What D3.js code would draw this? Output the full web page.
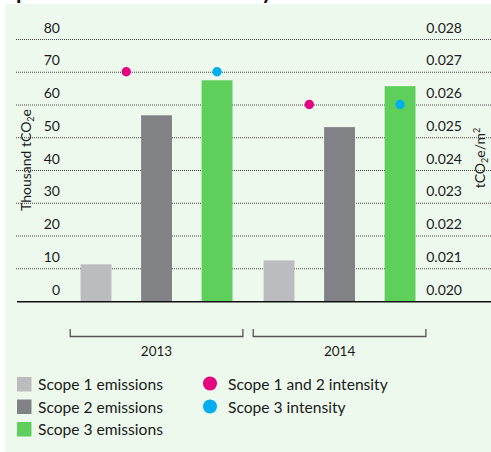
<!DOCTYPE html>
<html>
<head>
<meta charset="utf-8">
<script src="https://cdn.jsdelivr.net/npm/d3@7"></script>
<style>
  html, body { margin: 0; padding: 0; background: #ffffff; }
  svg { display: block; font-family: Lato, "Open Sans", sans-serif; }
</style>
</head>
<body>
<svg id="chart" width="491" height="452"></svg>
<script>
// Emissions (thousand tCO2e) and intensity (tCO2e/m2) by year
const years = ["2013", "2014"];
const scopes = ["Scope 1 emissions", "Scope 2 emissions", "Scope 3 emissions"];
const scope1 = [11.2, 12.4];
const scope2 = [56.7, 53.1];
const scope3 = [67.4, 65.6];
const intensityLabels = ["Scope 1 and 2 intensity", "Scope 3 intensity"];
const intensity12 = [0.027, 0.026];
const intensity3 = [0.027, 0.026];
const leftTicks = [0, 10, 20, 30, 40, 50, 60, 70, 80];
const rightTicks = [0.020, 0.021, 0.022, 0.023, 0.024, 0.025, 0.026, 0.027, 0.028];

const barColors = ["#bbbcbe", "#808285", "#5ecf5a"];
const dotColors = ["#e4007f", "#00aeef"];

const svg = d3.select("#chart");

// panel background
svg.append("rect").attr("x", 5).attr("y", 4).attr("width", 486).attr("height", 448)
  .attr("fill", "#eef9ee");

// heading line (runs above the panel)
svg.append("text").attr("x", 16).attr("y", -1)
  .attr("font-size", 22).attr("font-weight", 700).attr("fill", "#111")
  .text("performance and intensity");

const y = d3.scaleLinear().domain([0, 80]).range([301, 39]);
const yR = d3.scaleLinear().domain([0.020, 0.028]).range([301, 39]);

const xYear = d3.scaleBand().domain(years).range([69.7, 426.4])
  .paddingInner(0.051).paddingOuter(0);
// three bar slots plus the gaps between them
const xBar = d3.scaleBand().domain(scopes).range([0, xYear.bandwidth()])
  .paddingInner(0.49).paddingOuter(0.18);

// gridlines
svg.append("g").selectAll("line").data(leftTicks.slice(1)).join("line")
  .attr("x1", 16).attr("x2", 491)
  .attr("y1", d => y(d) + 0.5).attr("y2", d => y(d) + 0.5)
  .attr("stroke", "#444").attr("stroke-width", 1).attr("stroke-dasharray", "1,1");

// left axis labels
const leftAxis = d3.axisLeft(y).tickValues(leftTicks).tickSize(0).tickPadding(0);
const gl = svg.append("g").attr("transform", "translate(60,0)").call(leftAxis);
gl.select(".domain").remove();
gl.selectAll("text").attr("font-family", "Lato, sans-serif").attr("font-size", 14)
  .attr("fill", "#1a1a1a").attr("dy", -7).attr("y", 0)
  .attr("dominant-baseline", "auto");

// right axis labels
const rightAxis = d3.axisRight(yR).tickValues(rightTicks).tickSize(0).tickPadding(0)
  .tickFormat(d3.format(".3f"));
const gr = svg.append("g").attr("transform", "translate(462,0)").call(rightAxis);
gr.select(".domain").remove();
gr.selectAll("text").attr("font-family", "Lato, sans-serif").attr("font-size", 14)
  .attr("fill", "#1a1a1a").attr("text-anchor", "end").attr("x", 0)
  .attr("dy", -7).attr("y", 0).attr("dominant-baseline", "auto");

// axis titles
const lt = svg.append("text").attr("transform", "translate(31,160) rotate(-90)")
  .attr("text-anchor", "middle").attr("font-size", 14).attr("fill", "#1a1a1a");
lt.append("tspan").text("Thousand tCO");
lt.append("tspan").attr("font-size", 9).attr("dy", 3).text("2");
lt.append("tspan").attr("dy", -3).text("e");

const rt = svg.append("text").attr("transform", "translate(485,158) rotate(-90)")
  .attr("text-anchor", "middle").attr("font-size", 14).attr("fill", "#1a1a1a");
rt.append("tspan").text("tCO");
rt.append("tspan").attr("font-size", 9).attr("dy", 3).text("2");
rt.append("tspan").attr("dy", -3).text("e/m");
rt.append("tspan").attr("font-size", 9).attr("dy", -5).text("2");

// bars
const rows = years.map((yr, i) => ({
  year: yr,
  values: [scope1[i], scope2[i], scope3[i]],
  dots: [intensity12[i], intensity3[i]]
}));

const groups = svg.append("g").selectAll("g").data(rows).join("g")
  .attr("transform", d => `translate(${xYear(d.year)},0)`);

groups.selectAll("rect").data(d => d.values.map((v, j) => ({ v, j }))).join("rect")
  .attr("x", d => xBar(scopes[d.j]))
  .attr("width", xBar.bandwidth())
  .attr("y", d => y(d.v))
  .attr("height", d => y(0) - y(d.v))
  .attr("fill", d => barColors[d.j]);

// intensity dots: scope 1+2 sits between the first two bars, scope 3 over the third
groups.selectAll("circle").data(d => d.dots.map((v, j) => ({ v, j }))).join("circle")
  .attr("cx", d => d.j === 0
    ? (xBar(scopes[0]) + xBar(scopes[1]) + xBar.bandwidth()) / 2
    : xBar(scopes[2]) + xBar.bandwidth() / 2)
  .attr("cy", d => yR(d.v))
  .attr("r", 4.7)
  .attr("fill", d => dotColors[d.j]);

// baseline
svg.append("line").attr("x1", 17).attr("x2", 491)
  .attr("y1", y(0) + 0.8).attr("y2", y(0) + 0.8)
  .attr("stroke", "#111").attr("stroke-width", 1.6);

// year brackets
const br = svg.append("g").selectAll("g").data(years).join("g")
  .attr("transform", d => `translate(${xYear(d)},0)`);
br.append("path")
  .attr("d", `M0.5,329 V336.5 H${xYear.bandwidth() - 0.5} V329`)
  .attr("fill", "none").attr("stroke", "#555").attr("stroke-width", 1.3);
br.append("text").attr("x", xYear.bandwidth() / 2).attr("y", 356)
  .attr("text-anchor", "middle").attr("font-size", 13.5).attr("fill", "#1a1a1a")
  .text(d => d);

// legend
const lg1 = svg.append("g").selectAll("g").data(scopes).join("g")
  .attr("transform", (d, i) => `translate(17,${377 + i * 22.5})`);
lg1.append("rect").attr("width", 14.5).attr("height", 14.5)
  .attr("fill", (d, i) => barColors[i]);
lg1.append("text").attr("x", 21).attr("y", 13).attr("font-size", 15.6)
  .attr("fill", "#1a1a1a").text(d => d);

const lg2 = svg.append("g").selectAll("g").data(intensityLabels).join("g")
  .attr("transform", (d, i) => `translate(210,${383.5 + i * 23})`);
lg2.append("circle").attr("r", 7).attr("fill", (d, i) => dotColors[i]);
lg2.append("text").attr("x", 18).attr("y", 6).attr("font-size", 15.6)
  .attr("fill", "#1a1a1a").text(d => d);
</script>
</body>
</html>
